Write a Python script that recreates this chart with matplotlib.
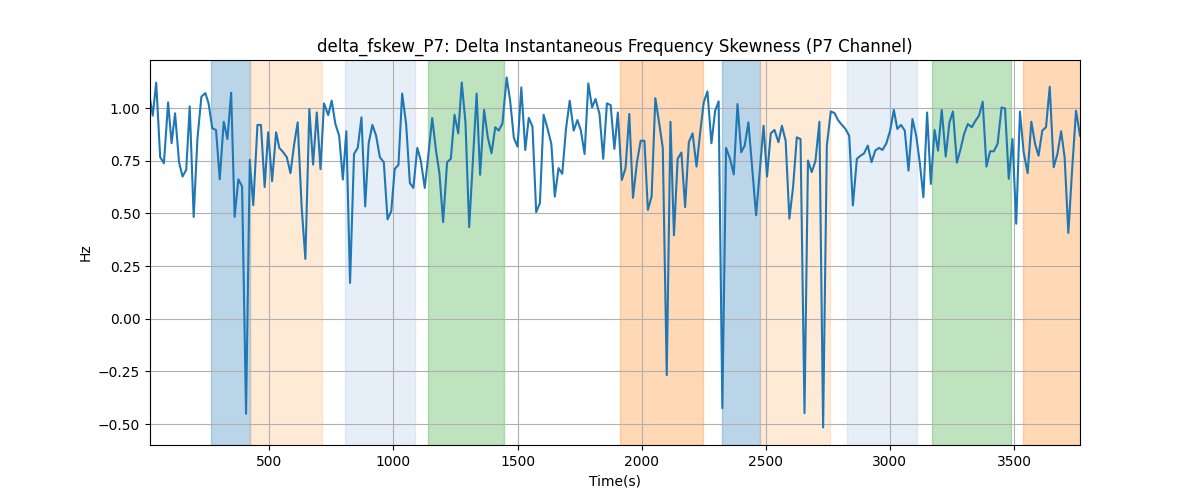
#!/usr/bin/env python3
'''
Delta instantaneous frequency skewness, P7 channel.
'''
### MODULES ---
import matplotlib
matplotlib.use('Agg')
import matplotlib.pyplot as plt


### DATA ---
t = [19, 30, 44, 60, 75, 92, 106, 120, 136, 150, 165, 179, 195, 210, 226, 242,
     255, 270, 285, 300, 316, 331, 346, 360, 375, 390, 406, 421, 435, 452, 466,
     481, 495, 511, 527, 540, 556, 570, 585, 600, 614, 630, 645, 661, 676, 691,
     706, 720, 737, 751, 766, 781, 796, 810, 825, 841, 856, 871, 886, 900, 915,
     930, 945, 961, 976, 991, 1005, 1020, 1035, 1051, 1066, 1080, 1096, 1110,
     1126, 1141, 1156, 1171, 1185, 1200, 1216, 1231, 1246, 1261, 1275, 1290,
     1305, 1320, 1335, 1349, 1365, 1380, 1395, 1410, 1424, 1439, 1456, 1470,
     1485, 1500, 1515, 1531, 1545, 1560, 1575, 1590, 1605, 1621, 1636, 1650,
     1665, 1680, 1695, 1710, 1726, 1741, 1755, 1770, 1785, 1800, 1814, 1830,
     1845, 1860, 1875, 1890, 1904, 1920, 1935, 1950, 1965, 1981, 1996, 2011,
     2025, 2040, 2055, 2070, 2085, 2101, 2116, 2130, 2145, 2160, 2175, 2190,
     2205, 2221, 2235, 2250, 2265, 2281, 2296, 2310, 2325, 2340, 2356, 2371,
     2386, 2401, 2415, 2430, 2445, 2461, 2476, 2491, 2505, 2520, 2535, 2551,
     2565, 2580, 2595, 2610, 2625, 2640, 2656, 2670, 2685, 2700, 2716, 2731,
     2746, 2762, 2777, 2791, 2806, 2821, 2836, 2851, 2867, 2882, 2896, 2911,
     2926, 2941, 2956, 2970, 2986, 3001, 3016, 3030, 3045, 3060, 3075, 3091,
     3106, 3121, 3135, 3150, 3165, 3180, 3194, 3209, 3225, 3240, 3254, 3270,
     3285, 3299, 3314, 3330, 3345, 3359, 3374, 3389, 3404, 3419, 3434, 3450,
     3464, 3479, 3494, 3509, 3524, 3539, 3555, 3570, 3585, 3599, 3614, 3629,
     3644, 3660, 3675, 3690, 3704, 3719, 3734, 3750, 3766]

fskew = [1.043, 0.964, 1.121, 0.767, 0.738, 1.027, 0.833, 0.975, 0.743, 0.675,
         0.707, 1.008, 0.483, 0.853, 1.054, 1.071, 1.022, 0.904, 0.896, 0.662,
         0.935, 0.853, 1.073, 0.483, 0.662, 0.628, -0.451, 0.754, 0.539, 0.920,
         0.920, 0.625, 0.885, 0.653, 0.885, 0.811, 0.790, 0.767, 0.691, 0.830,
         0.932, 0.530, 0.284, 0.995, 0.732, 0.979, 0.710, 1.022, 0.967, 1.035,
         0.924, 0.869, 0.661, 0.890, 0.170, 0.782, 0.811, 0.956, 0.533, 0.833,
         0.920, 0.869, 0.767, 0.743, 0.472, 0.511, 0.711, 0.730, 1.069, 0.924,
         0.644, 0.621, 0.811, 0.751, 0.621, 0.782, 0.953, 0.801, 0.691, 0.459,
         0.743, 0.759, 0.968, 0.880, 1.121, 0.932, 0.435, 0.751, 1.069, 0.683,
         0.991, 0.861, 0.785, 0.909, 0.893, 0.927, 1.145, 1.035, 0.858, 0.817,
         1.098, 0.801, 0.953, 0.912, 0.506, 0.549, 0.968, 0.901, 0.830, 0.580,
         0.715, 0.688, 0.901, 1.035, 0.893, 0.943, 0.893, 0.782, 1.117, 1.003,
         1.043, 0.972, 0.759, 1.022, 1.014, 0.806, 0.979, 0.659, 0.715, 0.972,
         0.574, 0.743, 0.845, 0.845, 0.517, 0.580, 1.047, 0.932, 0.811, -0.267,
         0.935, 0.396, 0.759, 0.789, 0.530, 0.838, 0.880, 0.722, 0.877, 1.027,
         1.079, 0.833, 0.987, 1.032, -0.424, 0.811, 0.759, 0.685, 1.019, 0.790,
         0.822, 0.932, 0.719, 0.491, 0.703, 0.916, 0.675, 0.880, 0.896, 0.838,
         0.916, 0.845, 0.475, 0.625, 0.861, 0.853, -0.448, 0.751, 0.696, 0.748,
         0.935, -0.516, 0.822, 0.984, 0.976, 0.943, 0.921, 0.901, 0.869, 0.538,
         0.759, 0.774, 0.785, 0.822, 0.743, 0.798, 0.811, 0.801, 0.833, 0.893,
         0.991, 0.901, 0.920, 0.893, 0.703, 0.948, 0.869, 0.735, 0.577, 0.979,
         0.640, 0.896, 0.798, 0.991, 0.770, 0.932, 0.984, 0.741, 0.806, 0.877,
         0.924, 0.909, 0.940, 0.964, 1.030, 0.722, 0.795, 0.795, 0.830, 1.003,
         0.998, 0.664, 0.853, 0.451, 0.983, 0.790, 0.691, 0.935, 0.830, 0.774,
         0.893, 0.909, 1.101, 0.719, 0.782, 0.890, 0.767, 0.407, 0.703, 0.987,
         0.869]

# shaded intervals (start, end, colour)
span_start = [266, 421, 806, 1141, 1911, 2324, 2476, 2826, 3169, 3536]
span_end = [421, 712, 1087, 1446, 2249, 2476, 2757, 3108, 3487, 3800]
span_color = ['#1f77b4', '#ffbb78', '#aec7e8', '#2ca02c', '#ff7f0e',
              '#1f77b4', '#ffbb78', '#aec7e8', '#2ca02c', '#ff7f0e']


### PLOT ---
fig, ax = plt.subplots(figsize=(12, 5), dpi=100)

for x0, x1, c in zip(span_start, span_end, span_color):
    ax.axvspan(x0, x1, color=c, alpha=0.3, linewidth=1)

ax.plot(t, fskew, color='#1f77b4', linewidth=1.5)

ax.set_xlim(t[0], t[-1])
ax.grid(True)
ax.set_title('delta_fskew_P7: Delta Instantaneous Frequency Skewness (P7 Channel)')
ax.set_xlabel('Time(s)')
ax.set_ylabel('Hz')

fig.savefig('out.png')
